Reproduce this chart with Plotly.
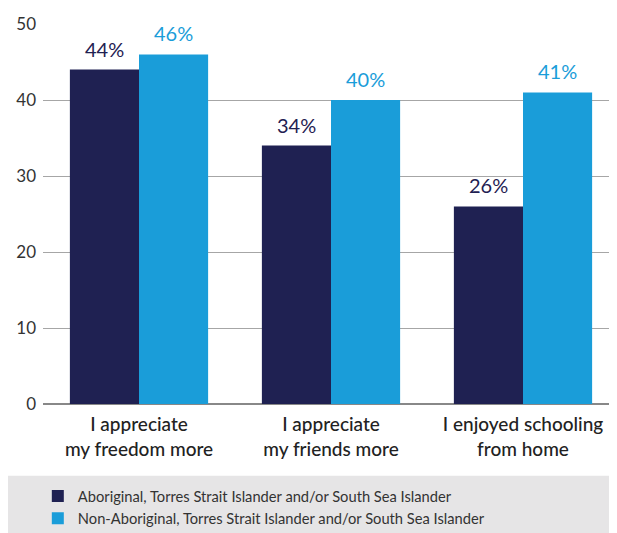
import plotly.graph_objects as go

categories = ["I appreciate<br>my freedom more", "I appreciate<br>my friends more", "I enjoyed schooling<br>from home"]
aboriginal = [44, 34, 26]
non_aboriginal = [46, 40, 41]
names = ["Aboriginal, Torres Strait Islander and/or South Sea Islander",
         "Non-Aboriginal, Torres Strait Islander and/or South Sea Islander"]

dark = "#1f2152"
light = "#1a9dd9"
font = "Lato"

fig = go.Figure()
fig.add_trace(go.Bar(x=categories, y=aboriginal, name=names[0], marker_color=dark))
fig.add_trace(go.Bar(x=categories, y=non_aboriginal, name=names[1], marker_color=light))

# value labels above the bars, a little higher than plotly's own outside text
for vals, col, shift in [(aboriginal, dark, -34.5), (non_aboriginal, light, 34.5)]:
    for cat, v in zip(categories, vals):
        fig.add_annotation(x=cat, y=v, text=f"{v}%", showarrow=False, xshift=shift,
                           yanchor="bottom", yshift=7,
                           font=dict(size=20, color=col, family=font))

# grey legend panel (page has an 8px body margin, so coords are offset)
fig.add_shape(type="rect", xref="paper", yref="paper", x0=-0.061, x1=1.03, y0=-0.37, y1=-0.189,
              fillcolor="#e6e5e6", line_width=0, layer="below")

fig.update_layout(
    template="none",
    width=617, height=533,
    margin=dict(l=35, r=6, t=16, b=137, autoexpand=False),
    barmode="group", bargap=0.28, bargroupgap=0,
    plot_bgcolor="white", paper_bgcolor="white",
    font=dict(family=font, color="#333333"),
    showlegend=True,
    legend=dict(x=-0.009, y=-0.2, xanchor="left", yanchor="top", orientation="v",
                font=dict(size=14.7, color="#333333", family=font), bgcolor="rgba(0,0,0,0)",
                tracegroupgap=1, itemwidth=30),
    yaxis=dict(range=[0, 50], dtick=10, showgrid=True, gridcolor="#a6a6a6", gridwidth=1,
               zeroline=True, zerolinecolor="#888888", zerolinewidth=1.5, automargin=False,
               tickfont=dict(size=17, color="#333333"), ticks="", ticklabelstandoff=6),
    xaxis=dict(tickfont=dict(size=19, color="#222222", weight=500), showline=False,
               automargin=False, showgrid=False, ticks="", ticklabelstandoff=7),
)

# no scrollbars in the page
fig.write_html("out.html", post_script="document.body.style.overflow='hidden';")
